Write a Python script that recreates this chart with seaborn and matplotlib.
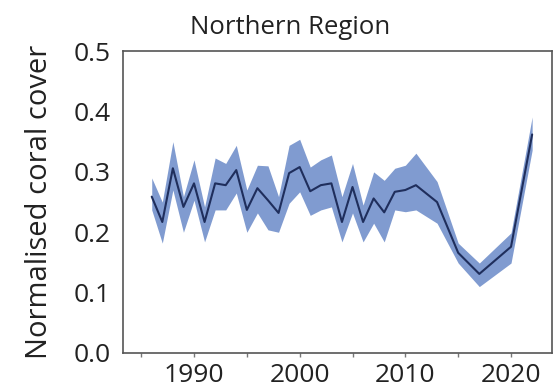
import numpy as np
import pandas as pd
import matplotlib
matplotlib.use("Agg")
import matplotlib.pyplot as plt
import seaborn as sns

years = [1986, 1987, 1988, 1989, 1990, 1991, 1992, 1993, 1994, 1995, 1996,
         1997, 1998, 1999, 2000, 2001, 2002, 2003, 2004, 2005, 2006, 2007,
         2008, 2009, 2010, 2011, 2013, 2015, 2017, 2020, 2022]
cover = [0.259, 0.217, 0.306, 0.242, 0.281, 0.217, 0.281, 0.278, 0.303, 0.237,
         0.273, 0.253, 0.232, 0.298, 0.308, 0.268, 0.278, 0.281, 0.217, 0.275,
         0.217, 0.256, 0.233, 0.267, 0.270, 0.278, 0.250, 0.166, 0.131, 0.176,
         0.362]
upper = [0.290, 0.250, 0.350, 0.259, 0.320, 0.242, 0.323, 0.314, 0.344, 0.270,
         0.311, 0.310, 0.259, 0.344, 0.354, 0.308, 0.320, 0.328, 0.259, 0.314,
         0.245, 0.300, 0.286, 0.306, 0.311, 0.331, 0.284, 0.182, 0.149, 0.199,
         0.391]
lower = [0.237, 0.182, 0.270, 0.200, 0.253, 0.184, 0.237, 0.237, 0.265, 0.200,
         0.232, 0.204, 0.200, 0.248, 0.267, 0.228, 0.237, 0.242, 0.184, 0.232,
         0.184, 0.215, 0.184, 0.237, 0.234, 0.237, 0.215, 0.149, 0.110, 0.149,
         0.336]

df = pd.DataFrame({"year": years, "cover": cover, "upper": upper, "lower": lower})

sns.set_style("white")
plt.rcParams["font.family"] = ["Open Sans", "DejaVu Sans"]

fig = plt.figure(figsize=(5.55, 3.92), dpi=100)
ax = fig.add_axes([0.222, 0.0995, 0.773, 0.770])

# uncertainty band, then the mean line on top
ax.fill_between(df["year"], df["lower"], df["upper"], color="#809bd0", linewidth=0)
sns.lineplot(data=df, x="year", y="cover", ax=ax, color="#1f2e5c", linewidth=1.5)

ax.set_xlim(1983.3, 2023.9)
ax.set_ylim(0, 0.5)
ax.set_xticks([1990, 2000, 2010, 2020])
ax.set_xticks([1985, 1995, 2005, 2015], minor=True)
ax.set_yticks([0.0, 0.1, 0.2, 0.3, 0.4, 0.5])
ax.set_yticklabels(["0.0", "0.1", "0.2", "0.3", "0.4", "0.5"])
ax.tick_params(axis="x", which="both", direction="out", length=3, width=1, color="#777777",
               labelsize=19, pad=4, bottom=True)
ax.tick_params(axis="y", length=0, labelsize=19, pad=9)

for s in ax.spines.values():
    s.set_color("#555555")
    s.set_linewidth(1.2)

ax.set_xlabel("")
ax.set_ylabel("Normalised coral cover", fontsize=21, labelpad=14, color="#222222")
ax.set_title("Northern Region", fontsize=18.5, pad=12, x=0.39, color="#222222")
for lbl in ax.get_xticklabels() + ax.get_yticklabels():
    lbl.set_color("#222222")

fig.savefig("out.png", dpi=100)
